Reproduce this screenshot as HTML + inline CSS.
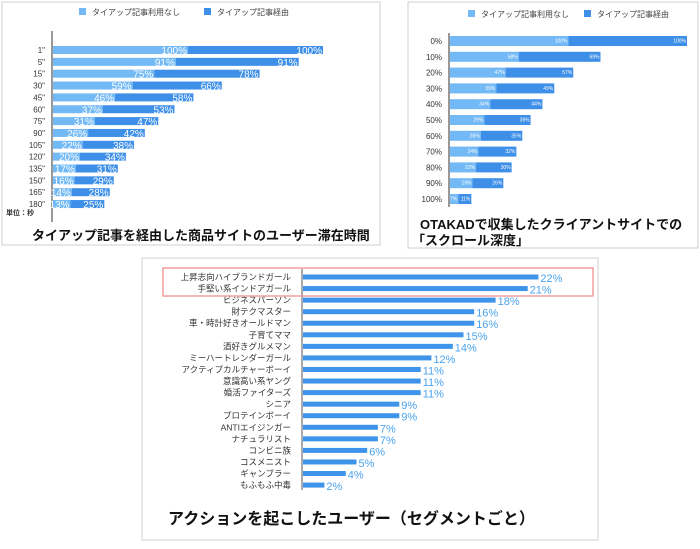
<!DOCTYPE html>
<html><head><meta charset="utf-8">
<style>
body{margin:0;background:#fff;width:700px;height:544px;overflow:hidden;font-family:"Liberation Sans","Noto Sans CJK JP",sans-serif;}
svg text{font-family:"Liberation Sans","Noto Sans CJK JP",sans-serif;}
</style></head>
<body>
<svg id="c" width="700" height="544" xmlns="http://www.w3.org/2000/svg">
  <rect x="2" y="2" width="378" height="243" fill="#fff" stroke="#cfcfcf"/>
  <rect x="408" y="2" width="290" height="246" fill="#fff" stroke="#cfcfcf"/>
  <rect x="142" y="258" width="456" height="282" fill="#fff" stroke="#cfcfcf"/>
  <g id="p1"></g><g id="p2"></g><g id="p3"></g>
</svg>
<script>
const NS="http://www.w3.org/2000/svg";
const LIGHT="#72b9f5", DARK="#3d8fe8";
const p1Cats=["1\"","5\"","15\"","30\"","45\"","60\"","75\"","90\"","105\"","120\"","135\"","150\"","165\"","180\""];
const p1None=[100,91,75,59,46,37,31,26,22,20,17,16,14,13];
const p1Via=[100,91,78,66,58,53,47,42,38,34,31,29,28,25];
const p2Cats=["0%","10%","20%","30%","40%","50%","60%","70%","80%","90%","100%"];
const p2None=[100,58,47,39,34,29,26,24,22,19,7];
const p2Via=[100,69,57,49,44,39,35,32,30,26,11];
const p3Cats=["上昇志向ハイブランドガール","手堅い系インドアガール","ビジネスパーソン","財テクマスター","車・時計好きオールドマン","子育てママ","酒好きグルメマン","ミーハートレンダーガール","アクティブカルチャーボーイ","意識高い系ヤング","婚活ファイターズ","シニア","プロテインボーイ","ANTIエイジンガー","ナチュラリスト","コンビニ族","コスメニスト","ギャンブラー","もふもふ中毒"];
const p3Vals=[22,21,18,16,16,15,14,12,11,11,11,9,9,7,7,6,5,4,2];

function el(parent,tag,attrs,txt){const e=document.createElementNS(NS,tag);for(const k in attrs)e.setAttribute(k,attrs[k]);if(txt!==undefined)e.textContent=txt;parent.appendChild(e);return e;}

function stacked(g,o){
  const x=v=>o.x0+v*o.sc, y=i=>o.y0+i*o.step;
  el(g,"line",{x1:o.x0-1,x2:o.x0-1,y1:o.ay1,y2:o.ay2,stroke:"#555","stroke-width":1.2});
  let r=el(g,"rect",{x:o.lx,y:o.ly-4,width:7,height:7,fill:LIGHT});
  
  
  let t=el(g,"text",{x:o.lx+13,y:o.ly+3,"font-size":8,fill:"#444"},"タイアップ記事利用なし");
  
  
  r=el(g,"rect",{x:o.lx2,y:o.ly-4,width:7,height:7,fill:DARK});
  
  
  t=el(g,"text",{x:o.lx2+13,y:o.ly+3,"font-size":8,fill:"#444"},"タイアップ記事経由");
  
  
  o.cats.forEach((c,i)=>{
    const cy=y(i);
    let a=el(g,"text",{x:o.labX,y:cy+3,"font-size":o.cfs,"text-anchor":"end",fill:"#333"},c);
    
    
    let b1=el(g,"rect",{x:x(0),y:cy-o.bh/2,width:x(o.a[i])-x(0),height:o.bh,fill:LIGHT});
    
    
    let b2=el(g,"rect",{x:x(o.a[i]),y:cy-o.bh/2,width:x(o.a[i]+o.b[i])-x(o.a[i]),height:o.bh,fill:DARK});
    
    
    let l1=el(g,"text",{x:x(o.a[i])-1,y:cy+o.vfs/2-1,"font-size":o.vfs,"text-anchor":"end",fill:"#fff"},o.a[i]+"%");
    
    
    let l2=el(g,"text",{x:x(o.a[i]+o.b[i])-1,y:cy+o.vfs/2-1,"font-size":o.vfs,"text-anchor":"end",fill:"#fff"},o.b[i]+"%");
    
    
  });
}
const g1=document.getElementById("p1");
stacked(g1,{cats:p1Cats,a:p1None,b:p1Via,x0:53,sc:1.35,y0:50,step:11.85,bh:8,ay1:31,ay2:222,labX:45,cfs:8,vfs:10,lx:79,lx2:204,ly:12});
let t=el(g1,"text",{x:6,y:215,"font-size":7,"font-weight":"bold",fill:"#333"},"単位：秒");


t=el(g1,"text",{x:32,y:240,"font-size":13,"font-weight":"bold",fill:"#111"},"タイアップ記事を経由した商品サイトのユーザー滞在時間");



const g2=document.getElementById("p2");
stacked(g2,{cats:p2Cats,a:p2None,b:p2Via,x0:450,sc:1.185,y0:41,step:15.8,bh:10,ay1:33,ay2:207,labX:442,cfs:8,vfs:5,lx:468,lx2:584,ly:14});
t=el(g2,"text",{x:420,y:229,"font-size":13,"font-weight":"bold",fill:"#111"},"OTAKADで収集したクライアントサイトでの");


t=el(g2,"text",{x:412,y:245,"font-size":13,"font-weight":"bold",fill:"#111"},"「スクロール深度」");



const g3=document.getElementById("p3");
const x3=v=>303+v*10.7, y3=i=>277+i*11.56;
el(g3,"line",{x1:302,x2:302,y1:269,y2:490,stroke:"#555","stroke-width":1});
p3Cats.forEach((c,i)=>{
  const cy=y3(i);
  let a=el(g3,"text",{x:291,y:cy+3,"font-size":8.5,"text-anchor":"end",fill:"#333"},c);
  
  
  let b=el(g3,"rect",{x:x3(0),y:cy-2.5,width:x3(p3Vals[i])-x3(0),height:5,fill:"#3d94ea"});
  
  
  let v=el(g3,"text",{x:x3(p3Vals[i])+2,y:cy+5,"font-size":11,fill:"#4aa3ee"},p3Vals[i]+"%");
  
  
});
let hl=el(g3,"rect",{x:163,y:268,width:430,height:28,fill:"none",stroke:"#ef8f8f","stroke-width":1.3});


t=el(g3,"text",{x:168,y:524,"font-size":16,"font-weight":"bold",fill:"#111"},"アクションを起こしたユーザー（セグメントごと）");


</script>
</body></html>
